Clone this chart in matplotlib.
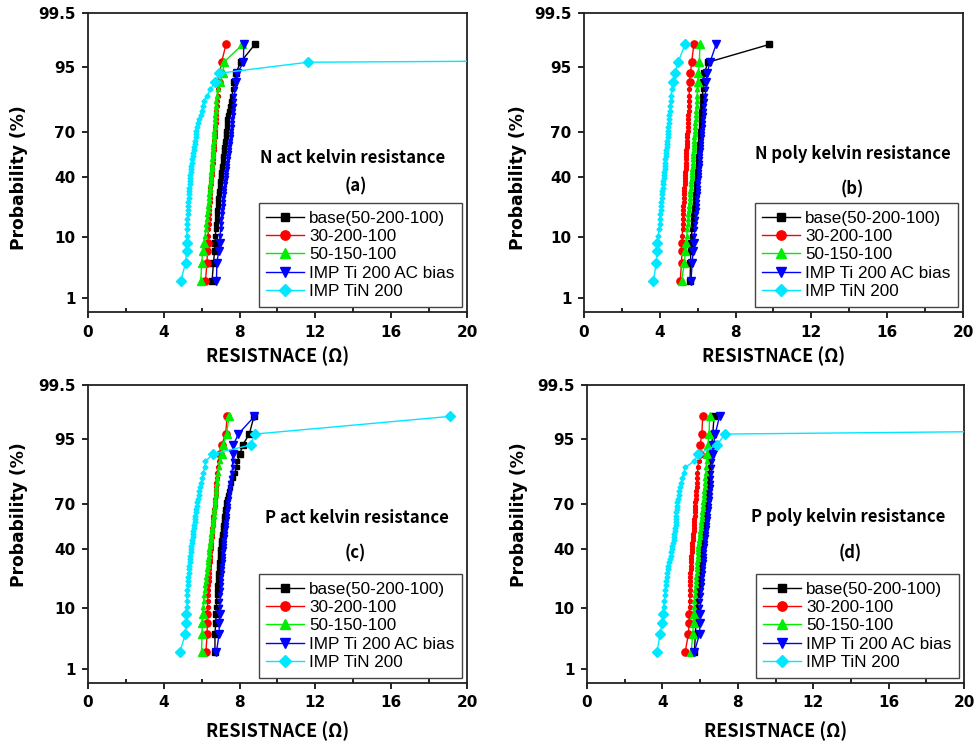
import numpy as np
import matplotlib.pyplot as plt
from matplotlib.lines import Line2D
from statistics import NormalDist

# cumulative probability (%) of each ranked point, i/(n+1) with n = 47
prob = [2.1, 4.2, 6.3, 8.3, 10.4, 12.5, 14.6, 16.7, 18.8, 20.8,
        22.9, 25.0, 27.1, 29.2, 31.3, 33.3, 35.4, 37.5, 39.6, 41.7,
        43.8, 45.8, 47.9, 50.0, 52.1, 54.2, 56.3, 58.3, 60.4, 62.5,
        64.6, 66.7, 68.8, 70.8, 72.9, 75.0, 77.1, 79.2, 81.3, 83.3,
        85.4, 87.5, 89.6, 91.7, 93.8, 95.8, 97.9]

names = ['base(50-200-100)', '30-200-100', '50-150-100',
         'IMP Ti 200 AC bias', 'IMP TiN 200']

# (a) N act kelvin resistance
a_base = [6.55, 6.62, 6.68, 6.70, 6.72, 6.75, 6.77, 6.79, 6.80, 6.82,
          6.84, 6.86, 6.88, 6.90, 6.92, 6.94, 6.96, 6.98, 7.00, 7.02,
          7.04, 7.06, 7.08, 7.10, 7.12, 7.14, 7.16, 7.18, 7.20, 7.22,
          7.24, 7.26, 7.28, 7.30, 7.32, 7.34, 7.36, 7.40, 7.45, 7.50,
          7.55, 7.60, 7.65, 7.72, 7.80, 8.05, 8.80]
a_30 = [6.20, 6.28, 6.30, 6.32, 6.34, 6.35, 6.36, 6.38, 6.39, 6.40,
        6.41, 6.42, 6.43, 6.44, 6.45, 6.46, 6.48, 6.49, 6.50, 6.52,
        6.53, 6.55, 6.56, 6.58, 6.59, 6.60, 6.62, 6.63, 6.64, 6.65,
        6.67, 6.68, 6.69, 6.70, 6.72, 6.73, 6.75, 6.76, 6.78, 6.80,
        6.82, 6.84, 6.87, 6.90, 6.95, 7.05, 7.28]
a_50 = [5.95, 6.00, 6.05, 6.12, 6.18, 6.22, 6.25, 6.28, 6.30, 6.32,
        6.34, 6.36, 6.38, 6.40, 6.42, 6.44, 6.46, 6.47, 6.48, 6.50,
        6.51, 6.52, 6.54, 6.55, 6.56, 6.57, 6.58, 6.60, 6.61, 6.62,
        6.63, 6.64, 6.65, 6.66, 6.68, 6.69, 6.70, 6.72, 6.74, 6.76,
        6.78, 6.80, 6.85, 6.95, 7.12, 7.17, 8.15]
a_ti = [6.78, 6.80, 6.90, 6.95, 6.97, 7.00, 7.02, 7.04, 7.06, 7.08,
        7.10, 7.12, 7.14, 7.16, 7.18, 7.20, 7.22, 7.24, 7.26, 7.28,
        7.30, 7.32, 7.34, 7.36, 7.38, 7.40, 7.42, 7.44, 7.46, 7.48,
        7.50, 7.52, 7.54, 7.56, 7.58, 7.60, 7.62, 7.64, 7.66, 7.68,
        7.70, 7.73, 7.76, 7.80, 7.88, 8.20, 8.22]
a_tin = [4.90, 5.15, 5.20, 5.20, 5.21, 5.22, 5.23, 5.25, 5.27, 5.28,
         5.29, 5.30, 5.31, 5.32, 5.33, 5.35, 5.36, 5.37, 5.38, 5.40,
         5.42, 5.44, 5.45, 5.47, 5.50, 5.53, 5.55, 5.58, 5.60, 5.62,
         5.65, 5.68, 5.70, 5.72, 5.74, 5.78, 5.85, 5.95, 6.00, 6.05,
         6.10, 6.30, 6.45, 6.70, 6.93, 11.6, 170.0]

# (b) N poly kelvin resistance
b_base = [5.60, 5.62, 5.64, 5.66, 5.68, 5.70, 5.73, 5.76, 5.78, 5.80,
          5.82, 5.84, 5.86, 5.87, 5.89, 5.90, 5.92, 5.93, 5.95, 5.96,
          5.98, 5.99, 6.00, 6.02, 6.03, 6.04, 6.05, 6.06, 6.08, 6.09,
          6.10, 6.11, 6.12, 6.14, 6.15, 6.16, 6.18, 6.19, 6.20, 6.22,
          6.23, 6.25, 6.27, 6.30, 6.35, 6.55, 9.77]
b_30 = [5.08, 5.15, 5.17, 5.18, 5.19, 5.20, 5.21, 5.22, 5.23, 5.24,
        5.25, 5.26, 5.27, 5.28, 5.29, 5.30, 5.31, 5.32, 5.33, 5.34,
        5.35, 5.36, 5.37, 5.38, 5.39, 5.39, 5.40, 5.41, 5.42, 5.43,
        5.44, 5.45, 5.46, 5.47, 5.48, 5.49, 5.50, 5.51, 5.52, 5.53,
        5.54, 5.55, 5.56, 5.57, 5.62, 5.68, 5.80]
b_50 = [5.15, 5.30, 5.35, 5.40, 5.43, 5.45, 5.47, 5.49, 5.51, 5.53,
        5.55, 5.57, 5.58, 5.60, 5.62, 5.63, 5.65, 5.66, 5.68, 5.69,
        5.70, 5.72, 5.73, 5.74, 5.76, 5.77, 5.78, 5.79, 5.80, 5.81,
        5.82, 5.83, 5.85, 5.86, 5.87, 5.88, 5.90, 5.91, 5.92, 5.94,
        5.95, 5.97, 5.99, 6.01, 6.04, 6.09, 6.12]
b_ti = [5.65, 5.71, 5.76, 5.80, 5.83, 5.85, 5.88, 5.90, 5.92, 5.94,
        5.96, 5.97, 5.99, 6.00, 6.01, 6.02, 6.03, 6.04, 6.05, 6.06,
        6.07, 6.09, 6.10, 6.11, 6.12, 6.13, 6.14, 6.15, 6.17, 6.18,
        6.20, 6.21, 6.22, 6.24, 6.26, 6.27, 6.29, 6.31, 6.33, 6.35,
        6.37, 6.40, 6.43, 6.45, 6.50, 6.65, 6.97]
b_tin = [3.66, 3.82, 3.86, 3.88, 3.92, 3.96, 3.99, 4.01, 4.03, 4.05,
         4.07, 4.09, 4.11, 4.12, 4.14, 4.16, 4.17, 4.19, 4.21, 4.23,
         4.24, 4.26, 4.27, 4.29, 4.30, 4.32, 4.33, 4.35, 4.36, 4.38,
         4.39, 4.41, 4.42, 4.44, 4.46, 4.47, 4.49, 4.51, 4.53, 4.55,
         4.57, 4.60, 4.63, 4.68, 4.80, 4.97, 5.33]

# (c) P act kelvin resistance
c_base = [6.70, 6.70, 6.74, 6.76, 6.78, 6.79, 6.80, 6.82, 6.83, 6.85,
          6.86, 6.88, 6.89, 6.91, 6.92, 6.94, 6.95, 6.97, 6.98, 7.00,
          7.02, 7.04, 7.06, 7.08, 7.10, 7.12, 7.14, 7.16, 7.18, 7.20,
          7.22, 7.24, 7.27, 7.30, 7.36, 7.40, 7.44, 7.49, 7.55, 7.65,
          7.75, 7.84, 7.88, 8.02, 8.16, 8.51, 8.76]
c_30 = [6.22, 6.29, 6.29, 6.30, 6.31, 6.32, 6.33, 6.34, 6.35, 6.36,
        6.37, 6.38, 6.39, 6.40, 6.42, 6.43, 6.44, 6.45, 6.47, 6.48,
        6.49, 6.50, 6.52, 6.53, 6.55, 6.56, 6.58, 6.59, 6.61, 6.62,
        6.64, 6.66, 6.68, 6.70, 6.72, 6.74, 6.75, 6.77, 6.78, 6.80,
        6.82, 6.85, 6.90, 6.96, 7.05, 7.26, 7.35]
c_50 = [5.99, 6.02, 6.03, 6.05, 6.08, 6.11, 6.14, 6.17, 6.20, 6.22,
        6.25, 6.27, 6.29, 6.31, 6.33, 6.35, 6.37, 6.39, 6.41, 6.43,
        6.45, 6.47, 6.49, 6.51, 6.53, 6.55, 6.57, 6.59, 6.61, 6.63,
        6.65, 6.67, 6.69, 6.70, 6.72, 6.74, 6.76, 6.78, 6.80, 6.83,
        6.86, 6.90, 6.96, 7.05, 7.14, 7.31, 7.44]
c_ti = [6.78, 6.92, 6.93, 6.95, 6.96, 6.97, 6.98, 7.00, 7.01, 7.02,
        7.04, 7.05, 7.07, 7.08, 7.10, 7.11, 7.13, 7.14, 7.16, 7.17,
        7.19, 7.20, 7.22, 7.24, 7.25, 7.27, 7.29, 7.30, 7.32, 7.34,
        7.36, 7.38, 7.40, 7.41, 7.43, 7.45, 7.47, 7.49, 7.51, 7.53,
        7.58, 7.63, 7.63, 7.63, 7.67, 7.93, 8.78]
c_tin = [4.85, 5.14, 5.16, 5.18, 5.20, 5.21, 5.23, 5.25, 5.26, 5.28,
         5.29, 5.31, 5.32, 5.34, 5.36, 5.38, 5.40, 5.42, 5.44, 5.46,
         5.48, 5.50, 5.52, 5.54, 5.56, 5.58, 5.60, 5.62, 5.64, 5.66,
         5.68, 5.70, 5.73, 5.76, 5.80, 5.84, 5.88, 5.93, 5.98, 6.03,
         6.08, 6.15, 6.20, 6.60, 8.58, 8.81, 19.1]

# (d) P poly kelvin resistance
d_base = [5.70, 5.75, 5.78, 5.80, 5.83, 5.85, 5.87, 5.89, 5.91, 5.93,
          5.95, 5.97, 5.99, 6.01, 6.03, 6.05, 6.07, 6.09, 6.11, 6.14,
          6.15, 6.17, 6.19, 6.21, 6.23, 6.25, 6.26, 6.28, 6.30, 6.31,
          6.32, 6.33, 6.34, 6.35, 6.37, 6.39, 6.41, 6.43, 6.45, 6.47,
          6.49, 6.52, 6.55, 6.58, 6.62, 6.67, 6.74]
d_30 = [5.21, 5.38, 5.42, 5.43, 5.44, 5.45, 5.46, 5.46, 5.47, 5.47,
        5.48, 5.49, 5.50, 5.51, 5.52, 5.53, 5.54, 5.55, 5.56, 5.57,
        5.58, 5.60, 5.62, 5.64, 5.65, 5.67, 5.68, 5.69, 5.70, 5.71,
        5.72, 5.73, 5.74, 5.75, 5.76, 5.78, 5.79, 5.81, 5.83, 5.84,
        5.86, 5.88, 5.92, 5.97, 6.00, 6.09, 6.14]
d_50 = [5.53, 5.61, 5.65, 5.67, 5.68, 5.70, 5.72, 5.74, 5.76, 5.79,
        5.80, 5.82, 5.83, 5.84, 5.86, 5.87, 5.88, 5.89, 5.90, 5.91,
        5.93, 5.95, 5.97, 6.00, 6.01, 6.03, 6.04, 6.06, 6.08, 6.10,
        6.12, 6.13, 6.14, 6.16, 6.18, 6.20, 6.22, 6.24, 6.26, 6.28,
        6.30, 6.33, 6.35, 6.38, 6.41, 6.48, 6.50]
d_ti = [5.70, 5.97, 6.00, 6.00, 6.01, 6.02, 6.04, 6.06, 6.08, 6.09,
        6.11, 6.13, 6.15, 6.17, 6.18, 6.20, 6.21, 6.22, 6.23, 6.25,
        6.26, 6.27, 6.29, 6.30, 6.32, 6.34, 6.36, 6.38, 6.40, 6.42,
        6.44, 6.46, 6.47, 6.48, 6.50, 6.52, 6.54, 6.56, 6.57, 6.59,
        6.60, 6.62, 6.65, 6.67, 6.71, 6.80, 7.03]
d_tin = [3.71, 3.88, 3.97, 4.02, 4.06, 4.10, 4.13, 4.16, 4.18, 4.20,
         4.23, 4.26, 4.29, 4.32, 4.36, 4.40, 4.44, 4.47, 4.50, 4.53,
         4.56, 4.59, 4.62, 4.64, 4.66, 4.68, 4.70, 4.71, 4.72, 4.73,
         4.74, 4.75, 4.77, 4.79, 4.82, 4.86, 4.90, 4.95, 5.00, 5.06,
         5.12, 5.21, 5.68, 5.91, 6.88, 7.33, 105.0]

panels = [
    ('N act kelvin resistance', '(a)', [a_base, a_30, a_50, a_ti, a_tin]),
    ('N poly kelvin resistance', '(b)', [b_base, b_30, b_50, b_ti, b_tin]),
    ('P act kelvin resistance', '(c)', [c_base, c_30, c_50, c_ti, c_tin]),
    ('P poly kelvin resistance', '(d)', [d_base, d_30, d_50, d_ti, d_tin]),
]

yticks = [1, 10, 40, 70, 95, 99.5]
ytick_labels = ['1', '10', '40', '70', '95', '99.5']

colors = ['#000000', '#ff0000', '#00ee00', '#0000ff', '#00e8ff']
markers = ['s', 'o', '^', 'v', 'D']
ms_big = [4.4, 5.2, 5.8, 5.8, 4.8]
ms_small = [2.4, 2.8, 3.2, 3.2, 2.6]

nd = NormalDist()
def zq(p):
    return np.array([nd.inv_cdf(v / 100.0) for v in p])

zp = zq(prob)
tail = (np.array(prob) < 10) | (np.array(prob) > 90)

fig = plt.figure(figsize=(9.79, 7.44), dpi=100)
rects = [[0.0899, 0.5806, 0.3871, 0.4019],
         [0.5965, 0.5806, 0.3871, 0.4019],
         [0.0899, 0.0820, 0.3871, 0.4005],
         [0.5996, 0.0820, 0.3851, 0.4005]]
title_pos = [(0.699, 0.515, 0.707, 0.421),
             (0.710, 0.528, 0.709, 0.411),
             (0.709, 0.553, 0.706, 0.436),
             (0.692, 0.556, 0.698, 0.436)]
ylab_pos = [(-0.158, 0.448), (-0.150, 0.448), (-0.158, 0.564), (-0.156, 0.564)]
xlab_y = [-0.114, -0.114, -0.128, -0.128]

cjk = ['Noto Sans CJK KR', 'DejaVu Sans']

for k, (title, tag, series) in enumerate(panels):
    ax = fig.add_axes(rects[k])
    for j, xs in enumerate(series):
        xs = np.array(xs)
        ax.plot(xs, zp, '-', color=colors[j], lw=1.0, zorder=2 + j)
        ax.plot(xs[tail], zp[tail], ls='none', marker=markers[j], ms=ms_big[j],
                color=colors[j], mec=colors[j], zorder=2 + j)
        ax.plot(xs[~tail], zp[~tail], ls='none', marker=markers[j], ms=ms_small[j],
                color=colors[j], mec=colors[j], zorder=2 + j)

    ax.set_xlim(0, 20)
    ax.set_ylim(nd.inv_cdf(0.005), nd.inv_cdf(0.995))
    ax.set_xticks(np.arange(0, 21, 4))
    ax.set_xticks(np.arange(2, 20, 4), minor=True)
    ax.set_yticks(zq(yticks))
    ax.set_yticklabels(ytick_labels)
    for s in ax.spines.values():
        s.set_linewidth(1.3)
        s.set_color('#222222')
    ax.tick_params(axis='x', which='major', direction='out', length=4, width=1.2,
                   pad=5, labelsize=11)
    ax.tick_params(axis='x', which='minor', direction='in', length=3, width=1.2)
    ax.tick_params(axis='y', direction='out', length=4, width=1.2, pad=5, labelsize=11)
    for lab in ax.get_xticklabels() + ax.get_yticklabels():
        lab.set_fontweight('bold')

    ax.set_ylabel('Probability (%)', fontsize=12.3, fontweight='bold')
    ax.yaxis.set_label_coords(*ylab_pos[k])
    ax.set_xlabel('RESISTNACE (Ω)', fontsize=13, fontweight='bold', family=cjk)
    ax.xaxis.set_label_coords(0.5, xlab_y[k])

    tx, ty, gx, gy = title_pos[k]
    ax.text(tx, ty, title, transform=ax.transAxes, ha='center', va='center',
            fontsize=12, fontweight='bold', family=cjk)
    ax.text(gx, gy, tag, transform=ax.transAxes, ha='center', va='center',
            fontsize=12, fontweight='bold', family=cjk)

    handles = [Line2D([], [], color=colors[j], lw=1.0, marker=markers[j],
                      ms=ms_big[j] + 1.5, mec=colors[j]) for j in range(5)]
    leg = ax.legend(handles, names, loc='lower right', bbox_to_anchor=(0.987, 0.017),
                    borderaxespad=0, prop={'family': 'Liberation Sans', 'size': 12.3},
                    handlelength=2.2, handletextpad=0.3, labelspacing=0.2,
                    borderpad=0.45, fancybox=False, framealpha=1)
    leg.get_frame().set_edgecolor('#444444')
    leg.get_frame().set_linewidth(1.0)

fig.savefig('out.png', dpi=100)
